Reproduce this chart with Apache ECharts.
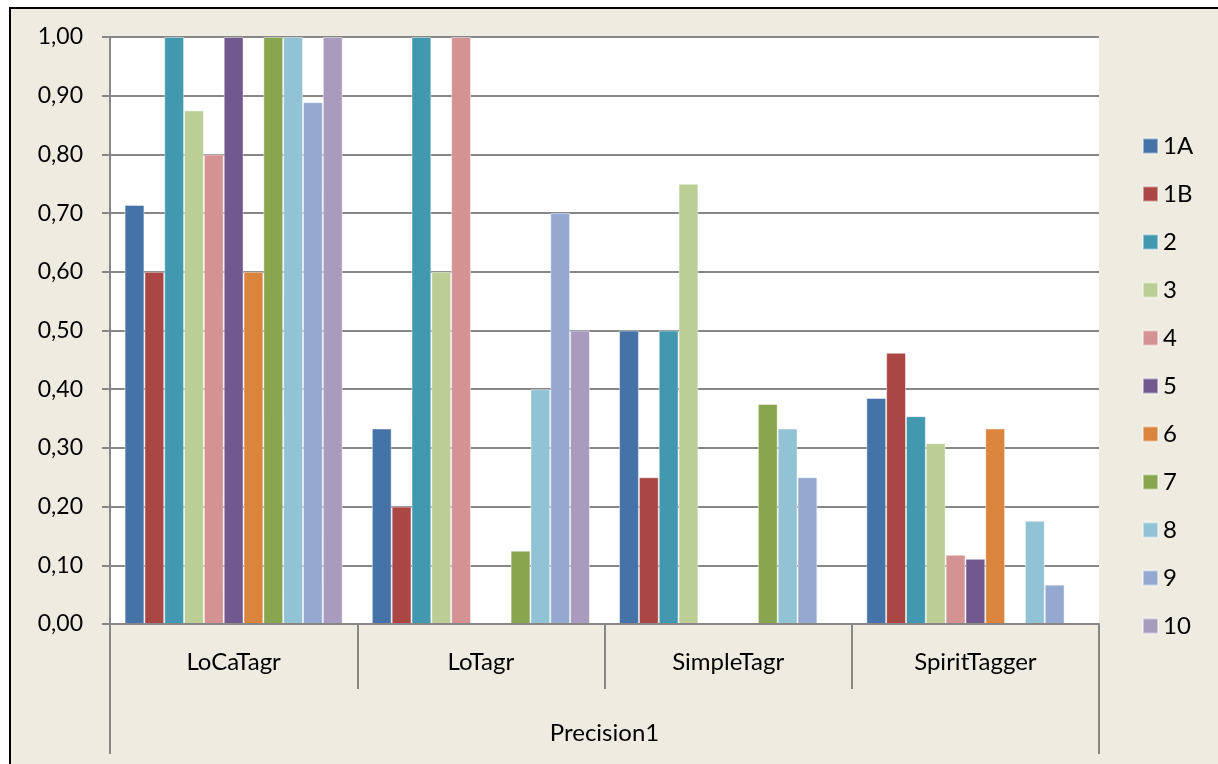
<!DOCTYPE html>
<html>
<head>
<meta charset="utf-8">
<title>Precision1</title>
<script src="https://cdn.jsdelivr.net/npm/echarts@6/dist/echarts.min.js"></script>
<style>
  html, body { margin: 0; padding: 0; background: #fff; }
  #chart { width: 1218px; height: 764px; }
</style>
</head>
<body>
<div id="chart"></div>
<script>
// taggers on the x axis
const taggers = ['LoCaTagr', 'LoTagr', 'SimpleTagr', 'SpiritTagger']
const groupLabel = ['Precision1']
const yTicks = [0, 0.1, 0.2, 0.3, 0.4, 0.5, 0.6, 0.7, 0.8, 0.9, 1.0]

// one array per series, values in tagger order
const s1A = [0.714, 0.333, 0.5, 0.385]
const s1B = [0.6, 0.2, 0.25, 0.462]
const s2 = [1.0, 1.0, 0.5, 0.354]
const s3 = [0.875, 0.6, 0.75, 0.308]
const s4 = [0.8, 1.0, 0, 0.118]
const s5 = [1.0, 0, 0, 0.111]
const s6 = [0.6, 0, 0, 0.333]
const s7 = [1.0, 0.125, 0.375, 0]
const s8 = [1.0, 0.4, 0.333, 0.176]
const s9 = [0.889, 0.7, 0.25, 0.067]
const s10 = [1.0, 0.5, 0, 0]

const seriesNames = ['1A', '1B', '2', '3', '4', '5', '6', '7', '8', '9', '10']
const seriesData = [s1A, s1B, s2, s3, s4, s5, s6, s7, s8, s9, s10]
const colors = [
  '#4572A7', '#AA4643', '#4198AF', '#BACE95', '#D49392', '#71588F',
  '#DB843D', '#89A54E', '#92C3D4', '#95A9D0', '#A99BBD',
]

const font = 'Lato, "Open Sans", sans-serif'
const gray = '#878787'

const chart = echarts.init(document.getElementById('chart'))

chart.setOption({
  backgroundColor: '#EEECE1',
  animation: false,
  color: colors,
  textStyle: { fontFamily: font },
  graphic: [
    { type: 'rect', silent: true, shape: { x: 0, y: 0, width: 1218, height: 7 }, style: { fill: '#fff' } },
    { type: 'rect', silent: true, shape: { x: 0, y: 0, width: 9, height: 764 }, style: { fill: '#fff' } },
    {
      type: 'polyline',
      silent: true,
      shape: { points: [[10, 764], [10, 8], [1218, 8]] },
      style: { stroke: '#000', lineWidth: 2, fill: null },
    },
  ],
  grid: {
    left: 110,
    right: 119,
    top: 37,
    bottom: 140,
    show: true,
    backgroundColor: '#fff',
    borderWidth: 0,
  },
  legend: {
    orient: 'vertical',
    left: 1142,
    top: 134,
    padding: 0,
    icon: 'rect',
    itemWidth: 15,
    itemHeight: 15,
    itemGap: 24,
    data: seriesNames,
    textStyle: { fontFamily: font, fontSize: 24, lineHeight: 23, color: '#000' },
  },
  xAxis: [
    {
      type: 'category',
      data: taggers,
      z: 5,
      axisLine: { lineStyle: { color: gray, width: 2 } },
      axisTick: { show: true, length: 65, interval: 0, lineStyle: { color: gray, width: 2 } },
      axisLabel: { margin: 26, fontSize: 24, color: '#000', fontFamily: font },
    },
    {
      type: 'category',
      data: groupLabel,
      position: 'bottom',
      axisLine: { show: false },
      axisTick: { show: true, length: 130, lineStyle: { color: gray, width: 2 } },
      axisLabel: { margin: 97, fontSize: 24, color: '#000', fontFamily: font },
    },
  ],
  yAxis: {
    type: 'value',
    min: yTicks[0],
    max: yTicks[yTicks.length - 1],
    interval: 0.1,
    axisLine: { show: true, lineStyle: { color: gray, width: 2 } },
    axisTick: { show: true, length: 8, lineStyle: { color: gray, width: 2 } },
    axisLabel: {
      margin: 27,
      fontSize: 23,
      color: '#000',
      fontFamily: font,
      formatter: (v) => v.toFixed(2).replace('.', ','),
    },
    splitLine: { lineStyle: { color: gray, width: 2 } },
  },
  series: seriesNames.map((name, i) => ({
    name: name,
    type: 'bar',
    xAxisIndex: 0,
    data: seriesData[i],
    barGap: '0%',
    barCategoryGap: '11.8%',
    itemStyle: { borderColor: 'rgba(255,255,255,0.45)', borderWidth: 1 },
  })),
})
</script>
</body>
</html>
